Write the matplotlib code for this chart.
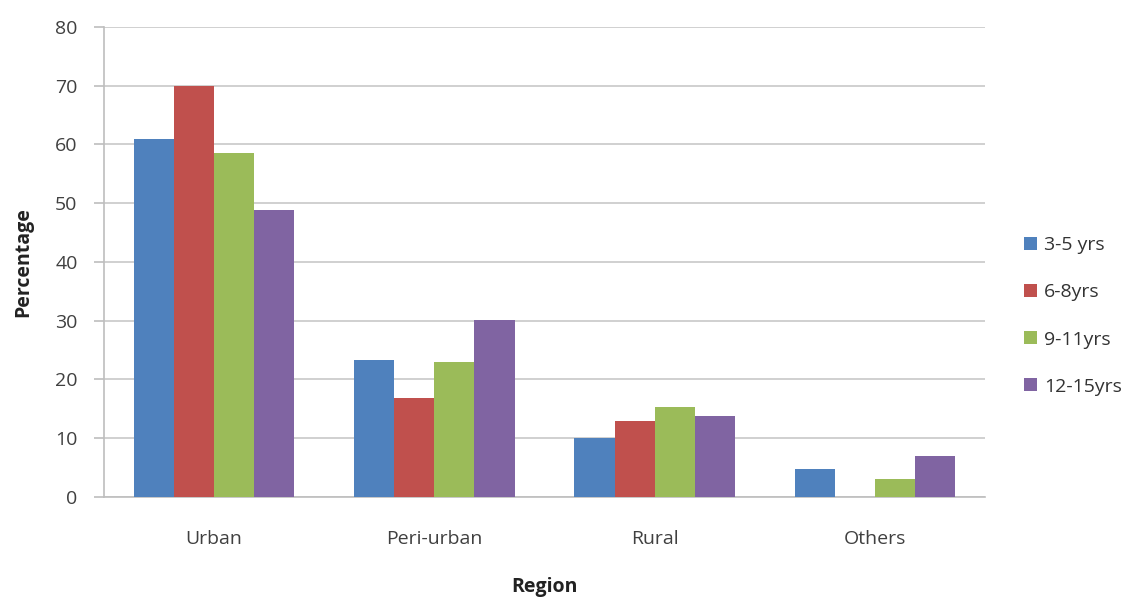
import numpy as np
import matplotlib.pyplot as plt

regions = ["Urban", "Peri-urban", "Rural", "Others"]
groups = ["3-5 yrs", "6-8yrs", "9-11yrs", "12-15yrs"]
age_3_5 = [61.0, 23.4, 10.0, 4.8]
age_6_8 = [70.0, 16.8, 12.9, 0.0]
age_9_11 = [58.5, 23.0, 15.4, 3.0]
age_12_15 = [48.9, 30.2, 13.8, 6.9]
colores = ["#4F81BD", "#C0504D", "#9BBB59", "#8064A2"]

plt.rcParams['font.family'] = ['Open Sans', 'DejaVu Sans']

fig = plt.figure(figsize=(11.4, 6), dpi=100)
ax = fig.add_axes([0.0912, 0.1717, 0.7728, 0.7833])

x = np.arange(len(regions))
ancho = 0.182
series = [age_3_5, age_6_8, age_9_11, age_12_15]
for k, vals in enumerate(series):
    ax.bar(x + (k - 1.5) * ancho, vals, ancho, color=colores[k], label=groups[k], zorder=3)

ax.set_xlim(-0.5, len(regions) - 0.5)
ax.set_ylim(0, 80)
ax.set_yticks(range(0, 81, 10))
ax.set_xticks(x)
ax.set_xticklabels(regions)
ax.yaxis.grid(True, color="#C8C8C8", linewidth=1.2, zorder=0)
for lado in ["top", "right"]:
    ax.spines[lado].set_visible(False)
ax.spines["left"].set_color("#BEBEBE")
ax.spines["bottom"].set_color("#BEBEBE")
ax.spines["left"].set_linewidth(1.2)
ax.spines["bottom"].set_linewidth(1.2)
ax.tick_params(axis="y", colors="#BEBEBE", labelcolor="#404040", labelsize=14, length=7, width=1.2, pad=12)
ax.tick_params(axis="x", length=0, labelcolor="#404040", labelsize=14, pad=24)

ax.set_ylabel("Percentage", fontsize=14, fontweight="bold", color="#222222", labelpad=16)
ax.set_xlabel("Region", fontsize=14, fontweight="bold", color="#222222", labelpad=21)

ax.legend(loc="center left", bbox_to_anchor=(1.025, 0.385), frameon=False, fontsize=14,
          handlelength=0.65, handleheight=0.65, labelspacing=1.5, handletextpad=0.35,
          labelcolor="#333333")

fig.savefig("out.png", dpi=100)
